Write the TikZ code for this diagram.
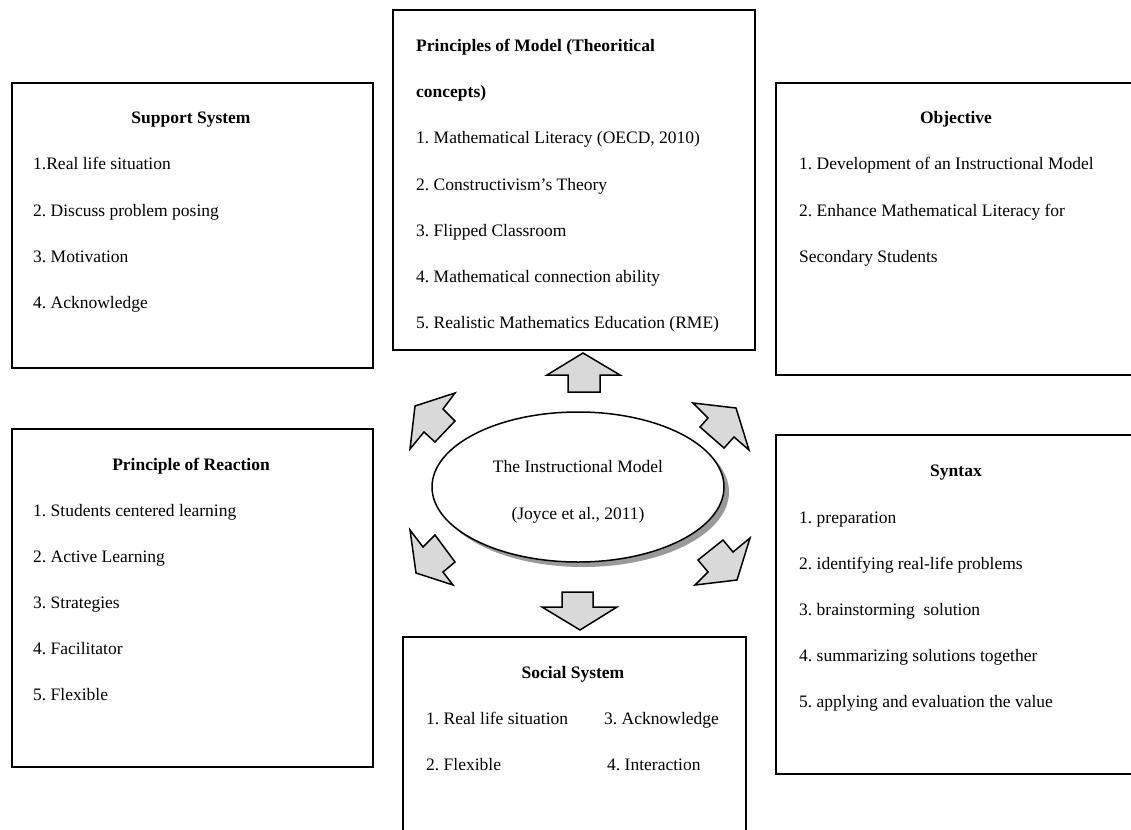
\documentclass[tikz,border=0pt]{standalone}
\usepackage{fontspec}
\setmainfont{Liberation Serif}
\frenchspacing
\usetikzlibrary{shapes.geometric,shadows}
\definecolor{arrgray}{RGB}{217,217,217}
\newcommand\fsz{\fontsize{17.5}{21}\selectfont\frenchspacing}
\tikzset{
  box/.style={draw, line width=1.6pt, fill=white, inner sep=0pt, rectangle},
  itm/.style={anchor=base west, inner sep=0pt, font=\fsz},
  ttl/.style={anchor=base, inner sep=0pt, font=\fsz\bfseries},
  ttlw/.style={anchor=base west, inner sep=0pt, font=\fsz\bfseries},
  blk/.style={draw, line width=1.5pt, fill=arrgray, line join=miter},
}
\begin{document}
\begin{tikzpicture}[x=1pt,y=-1pt]
\useasboundingbox (0,0) rectangle (1131,829);
\fill[white] (0,0) rectangle (1131,829);
\clip (0,0) rectangle (1131,829);

% boxes
\node[box, minimum width=361pt, minimum height=285pt] (support) at (192.5,225.5) {};
\node[box, minimum width=362pt, minimum height=340pt] (principles) at (574,180) {};
\node[box, minimum width=369pt, minimum height=292pt] (objective) at (960.5,229) {};
\node[box, minimum width=361pt, minimum height=338pt] (reaction) at (192.5,598) {};
\node[box, minimum width=369pt, minimum height=339pt] (syntax) at (960.5,604.5) {};
\node[box, minimum width=343pt, minimum height=208pt] (social) at (574.5,741) {};

% central ellipse
\node[ellipse, draw, line width=1.5pt, fill=white, minimum width=292pt, minimum height=150pt,
  drop shadow={shadow xshift=5pt, shadow yshift=-5pt, fill=black!50, opacity=0.8}] (core) at (578,487) {};
\node[ttl, font=\fsz] (core1) at (578,472) {The Instructional Model};
\node[ttl, font=\fsz] (core2) at (578,519) {(Joyce et al., 2011)};

% block arrows
\draw[blk] (583,353) -- (620,375) -- (600,375) -- (600,392) -- (568,392) -- (568,375) -- (547,375) -- cycle;
\draw[blk] (562,592) -- (593,592) -- (593,607) -- (617,607) -- (580,630) -- (542,607) -- (562,607) -- cycle;
\draw[blk] (415,406) -- (455,393) -- (443,409) -- (455,421) -- (435,442) -- (424,432) -- (410,449) -- cycle;
\draw[blk] (693,403) -- (736,408) -- (749,450) -- (734,437) -- (724,448) -- (700,427) -- (708,418) -- cycle;
\draw[blk] (410,530) -- (423,547) -- (435,535) -- (455,562) -- (443,572) -- (453,585) -- (416,573) -- cycle;
\draw[blk] (723,540) -- (733,552) -- (750,538) -- (737,580) -- (695,585) -- (708,572) -- (698,560) -- cycle;

% Support System
\node[ttl] (supT) at (191,124) {Support System};
\foreach \t [count=\i] in {1.Real life situation, 2. Discuss problem posing, 3. Motivation, 4. Acknowledge}
  \node[itm] (sup\i) at (33,{124+46*\i}) {\t};

% Principles of Model
\node[ttlw] (priT1) at (416,52) {Principles of Model (Theoritical};
\node[ttlw] (priT2) at (416,98) {concepts)};
\foreach \t [count=\i] in {{1. Mathematical Literacy (OECD, 2010)}, 2. Constructivism’s Theory, 3. Flipped Classroom, 4. Mathematical connection ability, 5. Realistic Mathematics Education (RME)}
  \node[itm] (pri\i) at (416,{98+46*\i}) {\t};

% Objective
\node[ttl] (objT) at (956,124) {Objective};
\foreach \t [count=\i] in {1. Development of an Instructional Model, 2. Enhance Mathematical Literacy for, Secondary Students}
  \node[itm] (obj\i) at (799,{124+46*\i}) {\t};

% Principle of Reaction
\node[ttl] (reaT) at (191,470) {Principle of Reaction};
\foreach \t [count=\i] in {1. Students centered learning, 2. Active Learning, 3. Strategies, 4. Facilitator, 5. Flexible}
  \node[itm] (rea\i) at (33,{470+46*\i}) {\t};

% Syntax
\node[ttl] (synT) at (956,476) {Syntax};
\foreach \t [count=\i] in {1. preparation, 2. identifying real-life problems, {3. brainstorming\ \ solution}, 4. summarizing solutions together, 5. applying and evaluation the value}
  \node[itm] (syn\i) at (799,{477+46*\i}) {\t};

% Social System
\node[ttl] (socT) at (573,678) {Social System};
\node[itm] (soc1) at (426,724) {1. Real life situation};
\node[itm] (soc3) at (604,724) {3. Acknowledge};
\node[itm] (soc2) at (426,770) {2. Flexible};
\node[itm] (soc4) at (607,770) {4. Interaction};
\end{tikzpicture}
\end{document}
